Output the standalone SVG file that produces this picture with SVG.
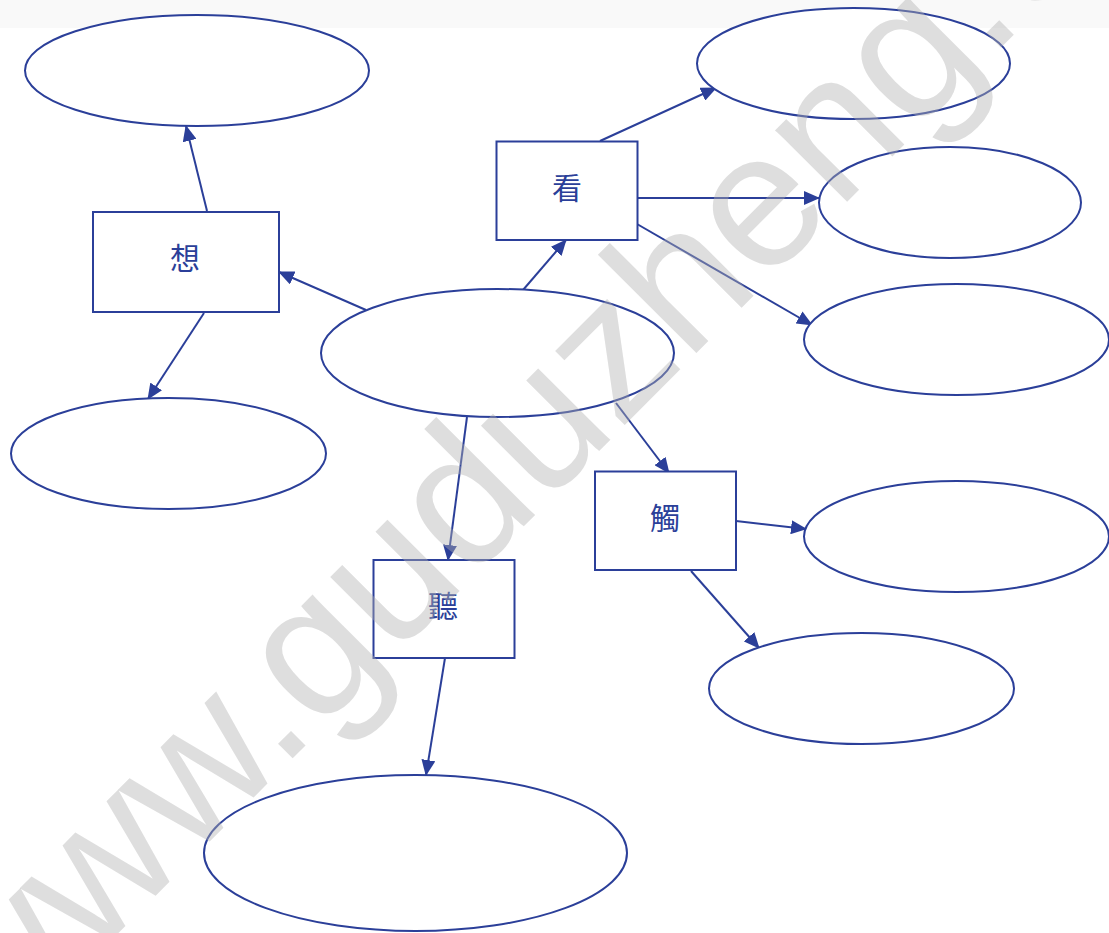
<svg xmlns="http://www.w3.org/2000/svg" width="1109" height="933" viewBox="0 0 1109 933">
<style>
.node ellipse, .node rect { fill: #ffffff; stroke: #2b3f99; stroke-width: 2; }
.lbl { font-family: "Noto Sans CJK TC", "Noto Sans CJK SC", sans-serif; font-size: 30px; fill: #2b3f99; text-anchor: middle; dominant-baseline: central; }
.conn line { stroke: #2b3f99; stroke-width: 2; fill: none; marker-end: url(#arr); }
.wm { font-family: "Liberation Sans", Arial, sans-serif; font-size: 192px; fill: #b0b0b0; fill-opacity: 0.42; }
</style>
<defs>
<marker id="arr" markerUnits="userSpaceOnUse" markerWidth="16" markerHeight="14" viewBox="0 0 16 14" refX="15" refY="7" orient="auto">
<path d="M0,0 L16,7 L0,14 Z" fill="#2b3f99"/>
</marker>
</defs>
<rect x="0" y="0" width="1109" height="933" fill="#ffffff"/>
<rect x="0" y="0" width="1109" height="28" fill="#f9f9f9"/>

<g class="conn">
<line x1="207" y1="211" x2="186" y2="126"/>
<line x1="366" y1="310" x2="279" y2="272"/>
<line x1="204" y1="313" x2="148" y2="399"/>
<line x1="523" y1="290" x2="566" y2="240"/>
<line x1="600" y1="141" x2="716" y2="88"/>
<line x1="637" y1="198" x2="819" y2="198"/>
<line x1="637" y1="224" x2="812" y2="325"/>
<line x1="616" y1="403" x2="669" y2="473"/>
<line x1="467" y1="417" x2="448" y2="560"/>
<line x1="736" y1="521" x2="806" y2="529"/>
<line x1="691" y1="571" x2="759" y2="648"/>
<line x1="445" y1="658" x2="426" y2="775"/>
</g>

<g id="e-topleft" class="node"><ellipse cx="197" cy="70.5" rx="172" ry="55.5"/></g>
<g id="e-topright" class="node"><ellipse cx="853.5" cy="63.5" rx="156.5" ry="55.5"/></g>
<g id="e-right2" class="node"><ellipse cx="950" cy="202.5" rx="131" ry="55.5"/></g>
<g id="e-right3" class="node"><ellipse cx="956.5" cy="339.5" rx="152.5" ry="55.5"/></g>
<g id="e-center" class="node"><ellipse cx="497.5" cy="353" rx="176.5" ry="64"/></g>
<g id="e-leftlow" class="node"><ellipse cx="168.5" cy="453.5" rx="157.5" ry="55.5"/></g>
<g id="e-rightlow1" class="node"><ellipse cx="956.5" cy="536.5" rx="152.5" ry="55.5"/></g>
<g id="e-rightlow2" class="node"><ellipse cx="861.5" cy="688.5" rx="152.5" ry="55.5"/></g>
<g id="e-bottom" class="node"><ellipse cx="415.5" cy="853" rx="211.5" ry="78"/></g>

<g id="n-xiang" class="node"><rect x="93" y="212" width="186" height="100"/><text class="lbl" x="185" y="256">想</text></g>
<g id="n-kan" class="node"><rect x="496.5" y="141.5" width="141" height="98.5"/><text class="lbl" x="567" y="186">看</text></g>
<g id="n-chu" class="node"><rect x="595" y="471.5" width="141" height="98.5"/><text class="lbl" x="665" y="516">觸</text></g>
<g id="n-ting" class="node"><rect x="373.5" y="560" width="141" height="98"/><text class="lbl" x="443" y="604">聽</text></g>

<text class="wm" x="0" y="0" transform="translate(-6,1058) rotate(-45.1)">www.guduzheng.com</text>
</svg>
